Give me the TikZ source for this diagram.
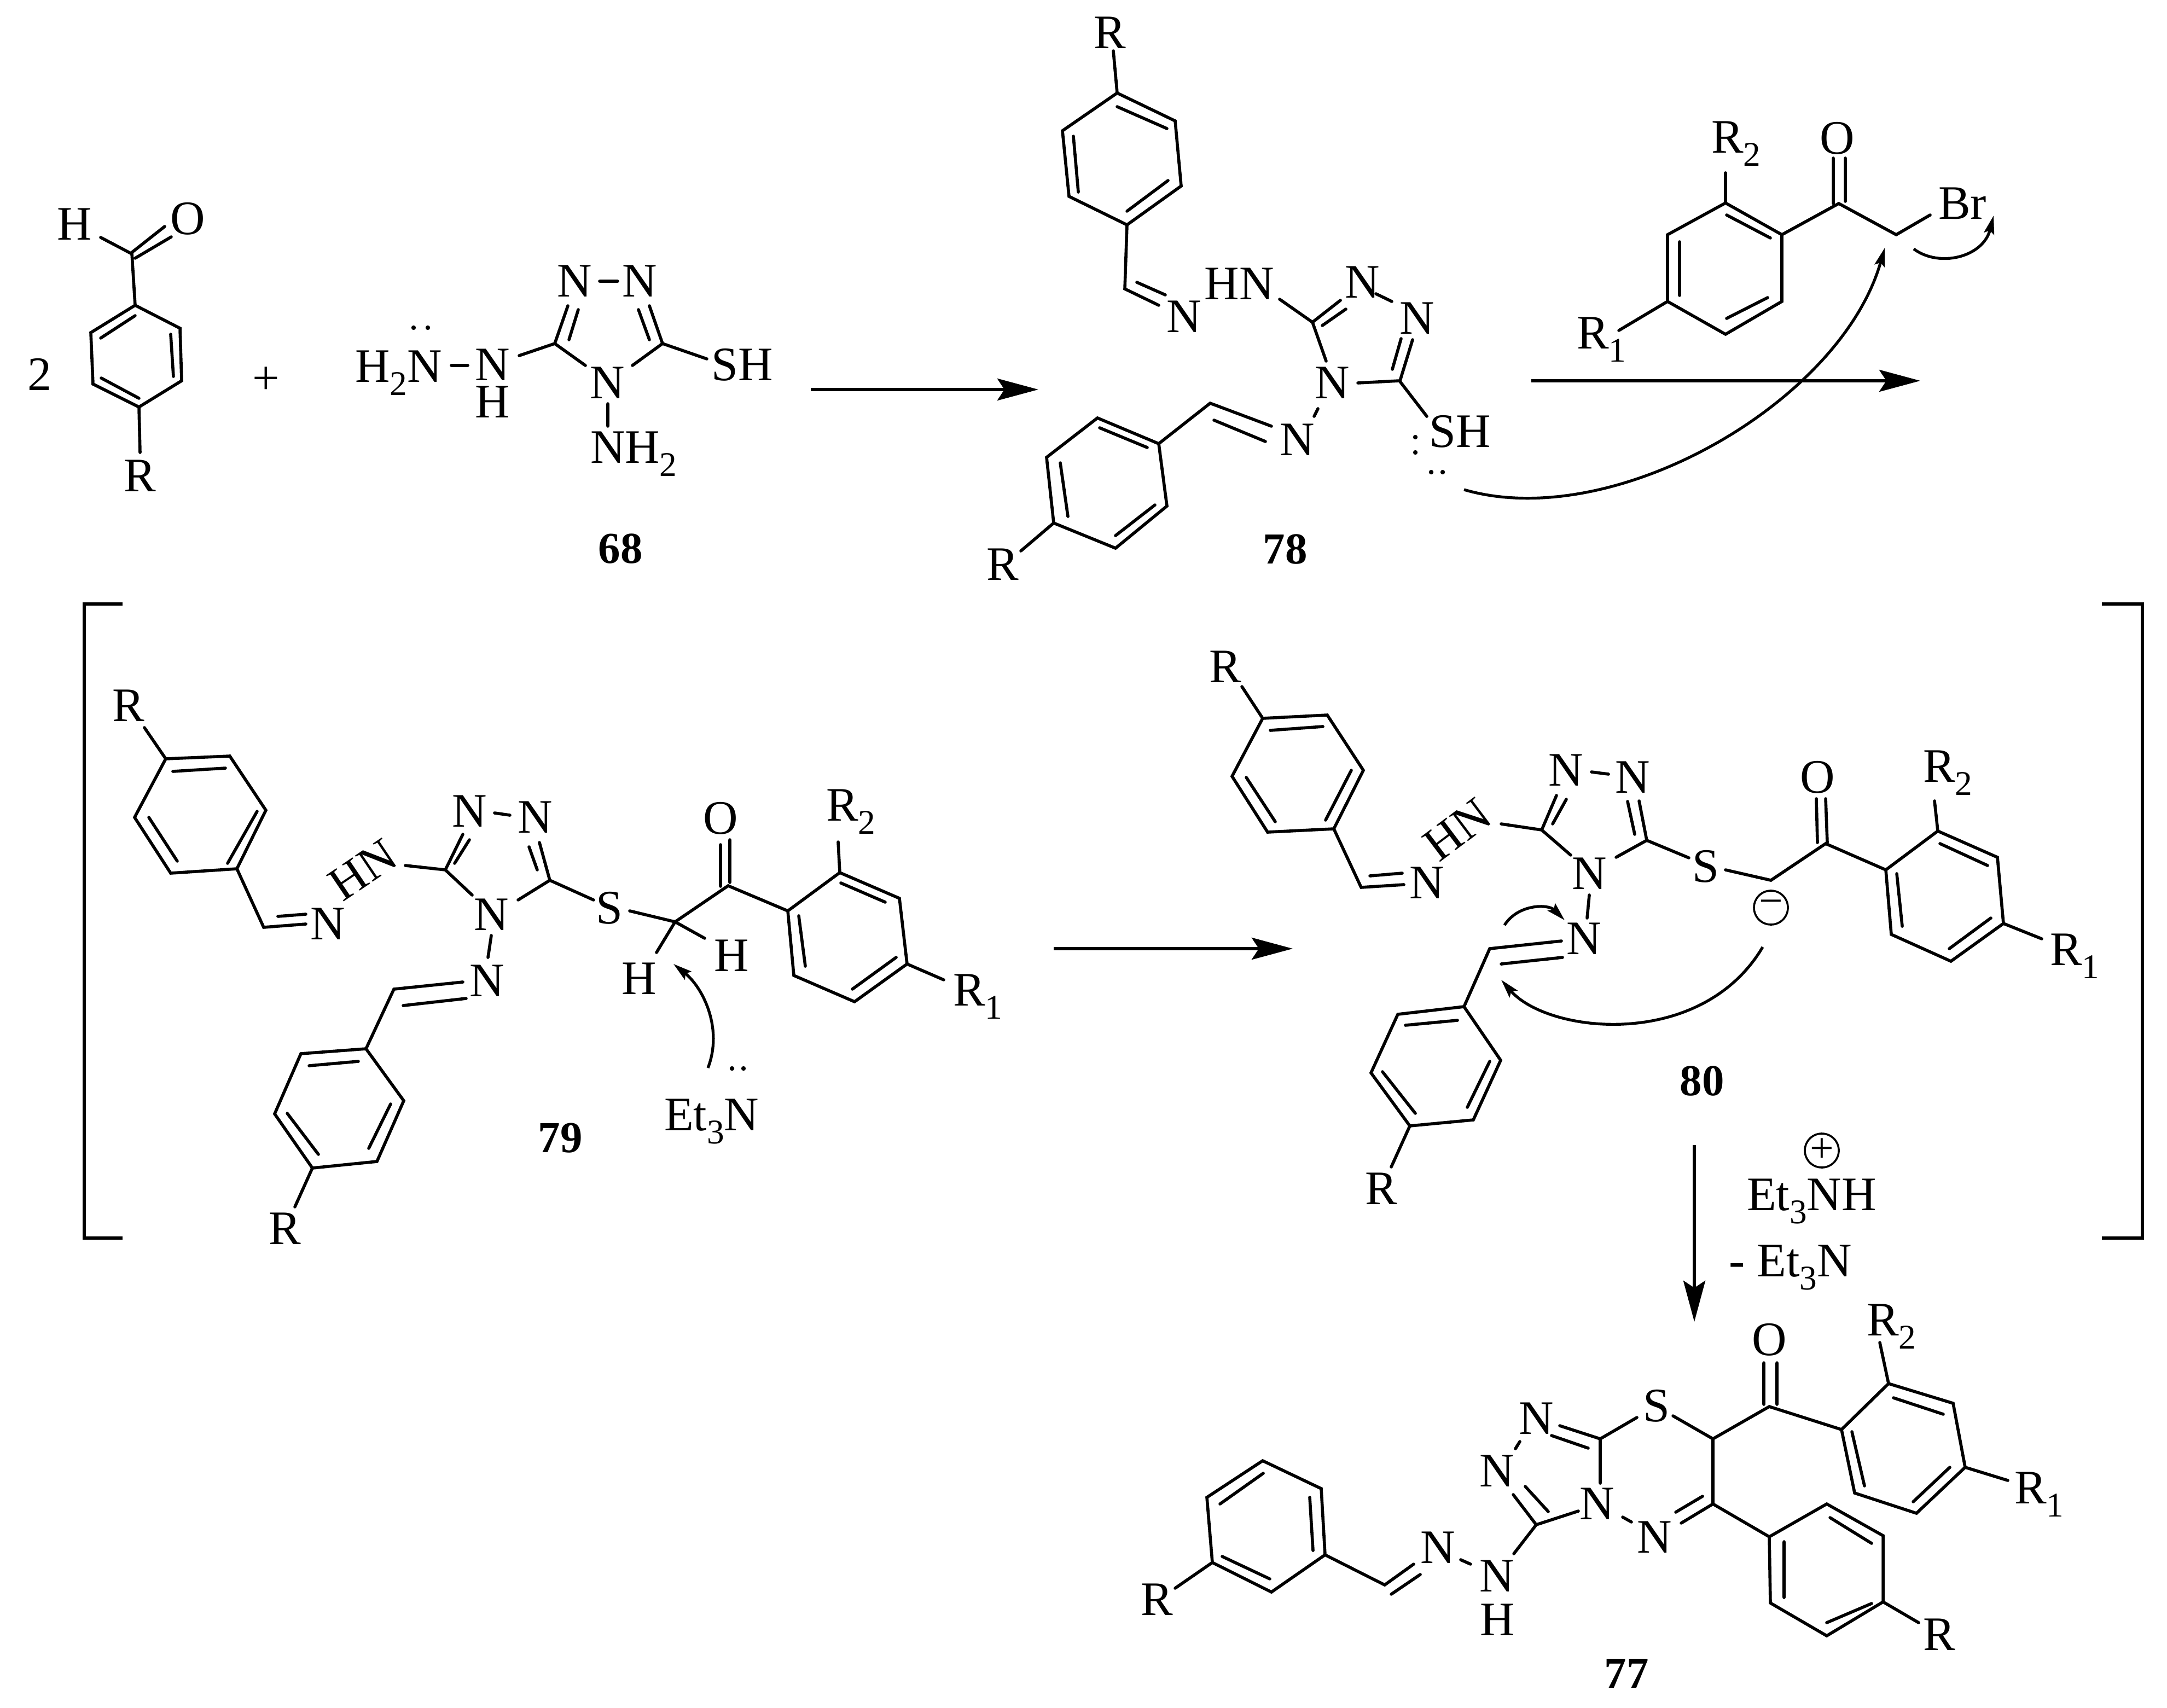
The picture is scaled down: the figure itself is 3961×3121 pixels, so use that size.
\documentclass[tikz,border=0pt]{standalone}
\usepackage{fontspec}
\setmainfont{Liberation Serif}
\usetikzlibrary{arrows.meta}
\newcommand\subs[1]{\raisebox{-7pt}{\fontsize{18}{18}\selectfont #1}}
\newcommand\atom[3]{\node[atm] (#1) at (#2) {#3};}
\newcommand\batom[3]{\node[atm,anchor=base west] (#1) at (#2) {#3};}
\newcommand\cpd[3]{\node[atm,font=\fontsize{23}{23}\selectfont\bfseries] (#1) at (#2) {#3};}
\newcommand\lpdot[2]{\fill (#1) circle (4.2) (#2) circle (4.2);}
\tikzset{
 x=0.01cm,y=-0.01cm,
 atm/.style={inner sep=0pt,outer sep=0pt,font=\fontsize{25}{25}\selectfont},
 bond/.style={line width=0.056cm,line cap=round,line join=miter},
 rxn/.style={line width=0.056cm,-{Stealth[length=7.5mm,width=4mm,inset=1.3mm]}},
 curly/.style={line width=0.052cm,-{Stealth[length=3.4mm,width=1.9mm,inset=0.6mm]}},
 brk/.style={line width=0.06cm},
 chg/.style={circle,draw,line width=0.036cm,inner sep=0pt,minimum size=0.62cm,font=\fontsize{22}{22}\selectfont},
}
\begin{document}
\begin{tikzpicture}
\useasboundingbox (0,0) rectangle (3961,3121);
% ---------- aldehyde
\atom{aH}{136,410}{H}\atom{aO}{343,400}{O}\atom{aR}{256,870}{R}
\atom{two}{72,684}{2}\atom{plus}{486,696}{+}
\draw[bond] (184,434)--(239,463) (239,463)--(301,414) (247,472)--(313,433) (241,463)--(247,558);
\draw[bond] (247,558)--(329,600)--(332,696)--(254,744)--(170,702)--(166,608)--cycle;
\draw[bond] (184,618)--(247,577) (312,611)--(317,688) (185,691)--(254,728) (254,744)--(256,827);
% ---------- 68
\atom{n1a}{1050,514}{N}\atom{n2a}{1169,514}{N}\atom{n4a}{1110,700}{N}
\node[atm,align=center,font=\fontsize{25}{19.3}\selectfont] (nh1) at (900,701) {N\\H};
\batom{h2n}{649,698}{H\subs{2}N}\batom{nh2a}{1079,846}{NH\subs{2}}\atom{sha}{1357,667}{SH}
\cpd{c68}{1134,1003}{68}
\draw[bond] (1096,514)--(1129,514) (1014,628)--(1070,668) (1211,628)--(1156,668)
 (1014,628)--(1038,559) (1040,621)--(1057,566) (1211,628)--(1187,559) (1187,621)--(1167,566)
 (1211,628)--(1292,656) (1111,738)--(1111,779) (825,668)--(855,668) (949,650)--(1014,628);
\lpdot{756,599}{782,599}
% ---------- arrow 1
\coordinate (r1a) at (1482,712);\coordinate (r1b) at (1898,712);
\draw[rxn] (r1a)--(r1b);
% ---------- 78
\atom{R78a}{2029,60}{R}\atom{N78a}{2164,579}{N}\atom{HN78}{2265,519}{HN}\atom{N78b}{2490,516}{N}\atom{N78c}{2590,582}{N}
\atom{N78d}{2435,700}{N}\atom{N78e}{2371,804}{N}\atom{SH78}{2669,789}{SH}\atom{R78b}{1833,1032}{R}
\cpd{c78}{2349,1004}{78}
\draw[bond] (2035,93)--(2042,170);
\draw[bond] (2042,170)--(2148,221)--(2159,340)--(2060,411)--(1954,359)--(1942,239)--cycle;
\draw[bond] (2042,195)--(2133,235) (1962,249)--(1971,351) (2135,330)--(2060,386)
 (2060,411)--(2056,528)--(2118,558) (2078,516)--(2130,539)
 (2339,547)--(2399,589)--(2450,549) (2417,595)--(2460,565) (2515,537)--(2544,551)
 (2559,696)--(2582,621) (2545,675)--(2561,619) (2399,589)--(2424,660) (2482,700)--(2558,696)
 (2558,696)--(2608,761) (2409,747)--(2402,761)
 (2324,779)--(2212,737)--(2118,811) (2219,768)--(2313,807);
\draw[bond] (2118,811)--(2006,764)--(1913,836)--(1926,956)--(2039,1002)--(2133,925)--cycle;
\draw[bond] (2010,782)--(2097,818) (1938,846)--(1952,944) (2039,979)--(2111,923) (1926,956)--(1866,1007);
\lpdot{2587,799}{2587,827}\lpdot{2616,863}{2637,863}
% ---------- bromoketone
\batom{R2b}{3128,279}{R\subs{2}}\atom{Ob}{3358,253}{O}\batom{Br}{3543,400}{Br}\batom{R1b}{2882,637}{R\subs{1}}
\draw[bond] (3154,316)--(3154,371);
\draw[bond] (3154,371)--(3257,429)--(3257,551)--(3154,611)--(3048,551)--(3048,429)--cycle;
\draw[bond] (3156,393)--(3236,435) (3070,442)--(3070,540) (3156,582)--(3231,544) (3048,551)--(2959,604)
 (3257,429)--(3361,372)--(3466,429)--(3528,393) (3351,372)--(3351,289) (3373,368)--(3373,289);
% ---------- arrow 2 and curly arrows
\coordinate (r2a) at (2799,696);\coordinate (r2b) at (3510,696);
\draw[rxn] (r2a)--(r2b);
\coordinate (c1a) at (2676,895);\coordinate (c1b) at (3445,453);
\draw[curly] (c1a) .. controls (2950,975) and (3365,735) .. (c1b);
\coordinate (c2a) at (3498,455);\coordinate (c2b) at (3644,394);
\draw[curly] (c2a) .. controls (3545,490) and (3625,470) .. (c2b);
% ---------- brackets
\coordinate (bl1) at (224,1104);\coordinate (bl2) at (154,1104);\coordinate (bl3) at (154,2263);\coordinate (bl4) at (224,2263);
\draw[brk] (bl1)--(bl2)--(bl3)--(bl4);
\coordinate (br1) at (3842,1104);\coordinate (br2) at (3916,1104);\coordinate (br3) at (3916,2263);\coordinate (br4) at (3842,2263);
\draw[brk] (br1)--(br2)--(br3)--(br4);
% ---------- 79
\atom{R79a}{235,1290}{R}\atom{N79a}{599,1689}{N}\atom{N79b}{858,1483}{N}\atom{N79c}{978,1494}{N}\atom{N79d}{898,1672}{N}
\atom{N79e}{890,1793}{N}\atom{S79}{1114,1660}{S}\atom{O79}{1317,1496}{O}\atom{H79a}{1337,1747}{H}\atom{H79b}{1168,1789}{H}
\atom{R79b}{521,2246}{R}
\node[atm,rotate=34] (HN79) at (663,1590) {HN};
\batom{R279}{1510,1500}{R\subs{2}}\batom{R179}{1742,1838}{R\subs{1}}\batom{Et79}{1214,2066}{Et\subs{3}N}
\cpd{c79}{1024,2080}{79}
\draw[bond] (264,1330)--(303,1387);
\draw[bond] (303,1387)--(420,1382)--(486,1481)--(433,1588)--(312,1596)--(246,1494)--cycle;
\draw[bond] (316,1410)--(412,1404) (470,1483)--(416,1578) (324,1574)--(272,1494)
 (433,1588)--(482,1695)--(559,1689) (508,1675)--(559,1671)
 (741,1582)--(814,1590)--(846,1525) (831,1578)--(858,1535) (904,1486)--(932,1490)
 (986,1540)--(1005,1609)--(1085,1645) (982,1590)--(967,1548)
 (814,1590)--(863,1636) (1005,1609)--(947,1645)
 (1151,1665)--(1234,1685)--(1331,1619)--(1440,1665) (1317,1620)--(1317,1544) (1334,1613)--(1334,1535)
 (1288,1715)--(1234,1685)--(1200,1741);
\draw[bond] (1440,1665)--(1535,1595)--(1644,1642)--(1658,1762)--(1562,1831)--(1451,1783)--cycle;
\draw[bond] (1460,1674)--(1472,1766) (1537,1614)--(1618,1649) (1638,1750)--(1558,1808)
 (1535,1595)--(1532,1539) (1658,1762)--(1725,1791)
 (898,1710)--(892,1750) (846,1795)--(720,1808)--(669,1917) (737,1838)--(852,1825);
\draw[bond] (669,1917)--(550,1926)--(502,2036)--(571,2135)--(689,2123)--(738,2012)--cycle;
\draw[bond] (565,1948)--(655,1940) (525,2035)--(582,2110) (674,2099)--(714,2018) (571,2135)--(539,2206);
\lpdot{1338,1953}{1359,1953}
\coordinate (c3a) at (1294,1952);\coordinate (c3b) at (1231,1762);
\draw[curly] (c3a) .. controls (1322,1880) and (1285,1805) .. (c3b);
% ---------- arrow 3
\coordinate (r3a) at (1926,1734);\coordinate (r3b) at (2363,1734);
\draw[rxn] (r3a)--(r3b);
% ---------- 80
\atom{R80a}{2240,1219}{R}\atom{N80a}{2608,1614}{N}\atom{N80b}{2862,1408}{N}\atom{N80c}{2984,1421}{N}\atom{N80d}{2905,1597}{N}
\atom{N80e}{2895,1716}{N}\atom{S80}{3118,1584}{S}\atom{O80}{3322,1421}{O}\atom{R80b}{2525,2173}{R}
\node[atm,rotate=37] (HN80) at (2664,1516) {HN};
\batom{R280}{3515,1429}{R\subs{2}}\batom{R180}{3747,1764}{R\subs{1}}
\cpd{c80}{3111,1976}{80}
\node[chg] (minus) at (3237,1659) {−};
\draw[bond] (2270,1255)--(2308,1313);
\draw[bond] (2308,1313)--(2426,1307)--(2492,1408)--(2438,1515)--(2317,1521)--(2252,1419)--cycle;
\draw[bond] (2322,1335)--(2418,1328) (2470,1408)--(2423,1499) (2331,1502)--(2278,1421)
 (2438,1515)--(2488,1622)--(2566,1617) (2504,1601)--(2563,1596)
 (2744,1506)--(2818,1517)--(2845,1454) (2838,1506)--(2863,1461) (2909,1411)--(2940,1415)
 (2996,1464)--(3010,1536)--(3087,1568) (2988,1525)--(2975,1465)
 (2818,1517)--(2871,1563) (3010,1536)--(2954,1567)
 (3154,1590)--(3237,1609)--(3337,1542)--(3447,1590) (3320,1460)--(3322,1540) (3337,1460)--(3340,1540);
\draw[bond] (3447,1590)--(3542,1519)--(3651,1567)--(3662,1688)--(3566,1757)--(3457,1708)--cycle;
\draw[bond] (3467,1597)--(3477,1693) (3546,1542)--(3633,1582) (3639,1678)--(3563,1734)
 (3542,1519)--(3536,1464) (3662,1688)--(3732,1716)
 (2905,1636)--(2901,1678) (2854,1720)--(2723,1734)--(2676,1840) (2744,1762)--(2856,1750);
\draw[bond] (2676,1840)--(2555,1854)--(2506,1961)--(2577,2058)--(2693,2047)--(2743,1938)--cycle;
\draw[bond] (2569,1874)--(2664,1865) (2527,1959)--(2587,2035) (2682,2024)--(2723,1940) (2577,2058)--(2543,2133);
\coordinate (c4a) at (3222,1731);\coordinate (c4b) at (2744,1791);
\draw[curly] (c4a) .. controls (3110,1920) and (2830,1890) .. (c4b);
\coordinate (c5a) at (2750,1691);\coordinate (c5b) at (2860,1682);
\draw[curly] (c5a) .. controls (2775,1652) and (2830,1652) .. (c5b);
% ---------- arrow 4 and reagents
\coordinate (r4a) at (3097,2093);\coordinate (r4b) at (3097,2416);
\draw[rxn] (r4a)--(r4b);
\node[chg] (plusc) at (3330,2103) {+};
\batom{Et80}{3193,2212}{Et\subs{3}NH}
\batom{mEt}{3160,2333}{- Et\subs{3}N}
% ---------- 77
\atom{R77a}{2115,2924}{R}\atom{N77a}{2628,2829}{N}\atom{N77b}{2736,2881}{N}\atom{H77}{2737,2961}{H}\atom{N77c}{2736,2689}{N}
\atom{N77d}{2808,2593}{N}\atom{N77e}{2919,2749}{N}\atom{N77f}{3024,2810}{N}\atom{S77}{3028,2570}{S}\atom{O77}{3234,2449}{O}
\atom{R77b}{3545,2988}{R}
\batom{R277}{3412,2441}{R\subs{2}}\batom{R177}{3682,2748}{R\subs{1}}
\cpd{c77}{2973,3059}{77}
\draw[bond] (2148,2903)--(2216,2856);
\draw[bond] (2216,2856)--(2206,2737)--(2308,2670)--(2415,2721)--(2422,2842)--(2324,2910)--cycle;
\draw[bond] (2230,2749)--(2309,2693) (2394,2737)--(2400,2834) (2234,2845)--(2321,2886)
 (2422,2842)--(2531,2897)--(2584,2859) (2543,2914)--(2596,2878) (2670,2851)--(2688,2859)
 (2767,2840)--(2808,2787)--(2766,2732) (2830,2763)--(2788,2717) (2778,2635)--(2770,2648)
 (2851,2606)--(2925,2630)--(2925,2711) (2903,2647)--(2836,2624)
 (2808,2787)--(2885,2762) (2925,2630)--(2992,2591)
 (3058,2588)--(3131,2630)--(3131,2749)--(3073,2784) (3112,2735)--(3063,2764) (2966,2773)--(2982,2782)
 (3131,2630)--(3234,2571)--(3366,2613) (3224,2567)--(3224,2491) (3248,2567)--(3248,2491);
\draw[bond] (3366,2613)--(3452,2529)--(3570,2565)--(3592,2682)--(3503,2766)--(3390,2729)--cycle;
\draw[bond] (3385,2617)--(3408,2716) (3461,2555)--(3552,2585) (3564,2682)--(3497,2745)
 (3452,2529)--(3436,2454) (3592,2682)--(3670,2706) (3131,2749)--(3234,2809);
\draw[bond] (3234,2809)--(3339,2749)--(3442,2807)--(3442,2928)--(3339,2990)--(3236,2930)--cycle;
\draw[bond] (3261,2818)--(3261,2920) (3345,2774)--(3421,2821) (3421,2931)--(3339,2966) (3442,2928)--(3507,2966);
\end{tikzpicture}
\end{document}
